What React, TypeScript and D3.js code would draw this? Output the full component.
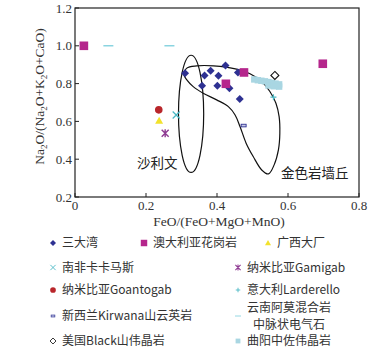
import React from 'react';
import * as d3 from 'd3';

const W = 391;
const H = 362;
const M = { left: 75, top: 8, right: 359, bottom: 197 };

const xTicks = [0, 0.2, 0.4, 0.6, 0.8];
const yTicks = [0.2, 0.4, 0.6, 0.8, 1.0, 1.2];

// 三大湾
const sandawan: [number, number][] = [
  [0.31, 0.855], [0.358, 0.788], [0.365, 0.843], [0.382, 0.868], [0.404, 0.841],
  [0.424, 0.896], [0.401, 0.788], [0.435, 0.776], [0.459, 0.859], [0.464, 0.718],
];
// 澳大利亚花岗岩
const australia: [number, number][] = [[0.025, 1.0], [0.476, 0.859], [0.425, 0.799], [0.698, 0.905]];
const guangxi: [number, number][] = [[0.237, 0.603]];
const kakamas: [number, number][] = [[0.285, 0.634]];
const gamigab: [number, number][] = [[0.254, 0.537]];
const goantogab: [number, number][] = [[0.236, 0.661]];
const larderello: [number, number][] = [[0.559, 0.728]];
const kirwana: [number, number][] = [[0.475, 0.578]];
const yunnan: [number, number][] = [[0.094, 1.0], [0.266, 1.0]];
const blackHills: [number, number][] = [[0.563, 0.843]];
const quyang: [number, number][] = [
  [0.505, 0.822], [0.515, 0.818], [0.525, 0.815], [0.535, 0.812], [0.545, 0.808],
  [0.555, 0.804], [0.565, 0.8], [0.575, 0.796], [0.545, 0.79], [0.56, 0.786], [0.575, 0.784],
];

// 沙利文 field (ellipse: cx, cy, rx, ry in data units)
const sullivanEllipse = { cx: 0.327, cy: 0.64, rx: 0.0355, ry: 0.31 };
// 金色岩墙丘 field outline
const goldenDike: [number, number][] = [
  [0.307, 0.846], [0.315, 0.882], [0.343, 0.894], [0.39, 0.894], [0.455, 0.877],
  [0.493, 0.852], [0.526, 0.811], [0.549, 0.758], [0.566, 0.696], [0.575, 0.625],
  [0.577, 0.537], [0.573, 0.449], [0.561, 0.37], [0.545, 0.322], [0.526, 0.343],
  [0.502, 0.414], [0.482, 0.485], [0.465, 0.572], [0.451, 0.634], [0.432, 0.678],
  [0.399, 0.714], [0.361, 0.749], [0.333, 0.784], [0.315, 0.82],
];

const C = {
  navy: '#2e3192',
  pink: '#b5268c',
  yellow: '#f2e22c',
  cyan: '#4ab8c4',
  purple: '#8e3a92',
  red: '#b9262b',
  dash: '#6cc9d8',
  light: '#a9d6e2',
};

const serif = '"Liberation Serif", "DejaVu Serif", serif';
const cjk = '"Noto Sans CJK SC", "Liberation Serif", serif';

type Kind = 'diamond' | 'square' | 'triangle' | 'x' | 'star' | 'circle' | 'plus' | 'kirwana' | 'dash' | 'odiamond' | 'lsquare';

const Marker: React.FC<{ kind: Kind; x: number; y: number; s?: number }> = ({ kind, x, y, s = 1 }) => {
  const t = `translate(${x},${y}) scale(${s})`;
  switch (kind) {
    case 'diamond':
      return <path transform={t} d="M0,-4L4,0L0,4L-4,0Z" fill={C.navy} />;
    case 'square':
      return <rect transform={t} x={-4.3} y={-4.3} width={8.6} height={8.6} fill={C.pink} />;
    case 'triangle':
      return <path transform={t} d="M0,-4L4,3L-4,3Z" fill={C.yellow} />;
    case 'x':
      return <path transform={t} d="M-3.5,-3.5L3.5,3.5M-3.5,3.5L3.5,-3.5" stroke={C.cyan} strokeWidth={1.2} />;
    case 'star':
      return (
        <path transform={t} d="M-3.5,-3.5L3.5,3.5M-3.5,3.5L3.5,-3.5M0,-4L0,4" stroke={C.purple} strokeWidth={1.4} />
      );
    case 'circle':
      return <circle transform={t} r={3.8} fill={C.red} />;
    case 'plus':
      return <path transform={t} d="M-3,0L3,0M0,-3L0,3" stroke={C.cyan} strokeWidth={1.2} />;
    case 'kirwana':
      return <rect transform={t} x={-2.5} y={-1.3} width={5} height={2.6} fill="#c8cbe8" stroke={C.navy} strokeWidth={0.9} />;
    case 'dash':
      return <path transform={t} d="M-5,0L5,0" stroke={C.dash} strokeWidth={1.2} />;
    case 'odiamond':
      return <path transform={t} d="M0,-4L4,0L0,4L-4,0Z" fill="#fff" stroke="#111" strokeWidth={1.1} />;
    case 'lsquare':
      return <rect transform={t} x={-3.2} y={-3.2} width={6.4} height={6.4} fill={C.light} />;
  }
};

const legend: { kind: Kind; label: string[]; x: number; y: number }[] = [
  { kind: 'diamond', label: ['三大湾'], x: 53, y: 243 },
  { kind: 'square', label: ['澳大利亚花岗岩'], x: 144, y: 243 },
  { kind: 'triangle', label: ['广西大厂'], x: 268, y: 243 },
  { kind: 'x', label: ['南非卡卡马斯'], x: 53, y: 267.5 },
  { kind: 'star', label: ['纳米比亚Gamigab'], x: 238, y: 267.5 },
  { kind: 'circle', label: ['纳米比亚Goantogab'], x: 53, y: 290 },
  { kind: 'plus', label: ['意大利Larderello'], x: 238, y: 290 },
  { kind: 'kirwana', label: ['新西兰Kirwana山云英岩'], x: 53, y: 316 },
  { kind: 'dash', label: ['云南阿莫混合岩', '中脉状电气石'], x: 238, y: 316 },
  { kind: 'odiamond', label: ['美国Black山伟晶岩'], x: 53, y: 341 },
  { kind: 'lsquare', label: ['曲阳中佐伟晶岩'], x: 238, y: 341 },
];

const series: { kind: Kind; data: [number, number][] }[] = [
  { kind: 'lsquare', data: quyang },
  { kind: 'diamond', data: sandawan },
  { kind: 'square', data: australia },
  { kind: 'triangle', data: guangxi },
  { kind: 'x', data: kakamas },
  { kind: 'star', data: gamigab },
  { kind: 'circle', data: goantogab },
  { kind: 'plus', data: larderello },
  { kind: 'kirwana', data: kirwana },
  { kind: 'dash', data: yunnan },
  { kind: 'odiamond', data: blackHills },
];

export default function App() {
  const x = d3.scaleLinear().domain([0, 0.8]).range([M.left, M.right]);
  const y = d3.scaleLinear().domain([0.2, 1.2]).range([M.bottom, M.top]);

  const outline = d3
    .line<[number, number]>()
    .x((d) => x(d[0]))
    .y((d) => y(d[1]))
    .curve(d3.curveCatmullRomClosed.alpha(0.5))(goldenDike);

  const e = sullivanEllipse;
  const lf = 12;

  return (
    <svg
      width={W}
      height={H}
      style={{ position: 'absolute', left: 0, top: 0, background: '#fff' }}
    >
      {/* fields */}
      <ellipse
        cx={x(e.cx)}
        cy={y(e.cy)}
        rx={x(e.cx + e.rx) - x(e.cx)}
        ry={y(e.cy) - y(e.cy + e.ry)}
        fill="none"
        stroke="#111"
        strokeWidth={1.2}
      />
      <path d={outline ?? ''} fill="none" stroke="#111" strokeWidth={1.2} />

      {/* points */}
      {series.map((s, i) => (
        <g key={i}>
          {s.data.map((d, j) => (
            <Marker key={j} kind={s.kind} x={x(d[0])} y={y(d[1])} />
          ))}
        </g>
      ))}

      {/* frame */}
      <rect x={M.left} y={M.top} width={M.right - M.left} height={M.bottom - M.top} fill="none" stroke="#222" strokeWidth={1.2} />

      {/* x axis */}
      {xTicks.map((t) => (
        <g key={t}>
          <line x1={x(t)} x2={x(t)} y1={M.bottom} y2={M.bottom - 4} stroke="#222" strokeWidth={1} />
          <text x={x(t)} y={M.bottom + 13} textAnchor="middle" fontFamily={serif} fontSize={13} fill="#333">
            {t === 0 ? '0' : t.toFixed(1)}
          </text>
        </g>
      ))}
      <text x={(M.left + M.right) / 2 + 2} y={226} textAnchor="middle" fontFamily={serif} fontSize={13.5} fill="#333">
        FeO/(FeO+MgO+MnO)
      </text>

      {/* y axis */}
      {yTicks.map((t) => (
        <g key={t}>
          <line x1={M.left} x2={M.left + 4} y1={y(t)} y2={y(t)} stroke="#222" strokeWidth={1} />
          <text x={M.left - 3} y={y(t) + 4.5} textAnchor="end" fontFamily={serif} fontSize={13} fill="#333">
            {t.toFixed(1)}
          </text>
        </g>
      ))}
      <text
        transform={`translate(44,${(M.top + M.bottom) / 2 - 6}) rotate(-90)`}
        textAnchor="middle"
        fontFamily={serif}
        fontSize={13.5}
        fill="#333"
      >
        Na<tspan fontSize={9} dy={3}>2</tspan>
        <tspan dy={-3}>O/(Na</tspan>
        <tspan fontSize={9} dy={3}>2</tspan>
        <tspan dy={-3}>O+K</tspan>
        <tspan fontSize={9} dy={3}>2</tspan>
        <tspan dy={-3}>O+CaO)</tspan>
      </text>

      {/* field labels */}
      <text x={137} y={168} fontFamily={cjk} fontSize={13.5} fill="#222">沙利文</text>
      <text x={281} y={178} fontFamily={cjk} fontSize={13.5} fill="#222">金色岩墙丘</text>

      {/* legend */}
      {legend.map((l, i) => (
        <g key={i}>
          <Marker kind={l.kind} x={l.x} y={l.y} s={l.kind === 'dash' ? 0.6 : 0.75} />
          {l.label.length === 1 ? (
            <text x={l.x + 9} y={l.y + 4.3} fontFamily={cjk} fontSize={lf} fill="#333">
              {l.label[0]}
            </text>
          ) : (
            <>
              <text x={l.x + 9} y={l.y - 4.2} fontFamily={cjk} fontSize={lf} fill="#333">
                {l.label[0]}
              </text>
              <text x={l.x + 15} y={l.y + 13} fontFamily={cjk} fontSize={lf} fill="#333">
                {l.label[1]}
              </text>
            </>
          )}
        </g>
      ))}
    </svg>
  );
}
